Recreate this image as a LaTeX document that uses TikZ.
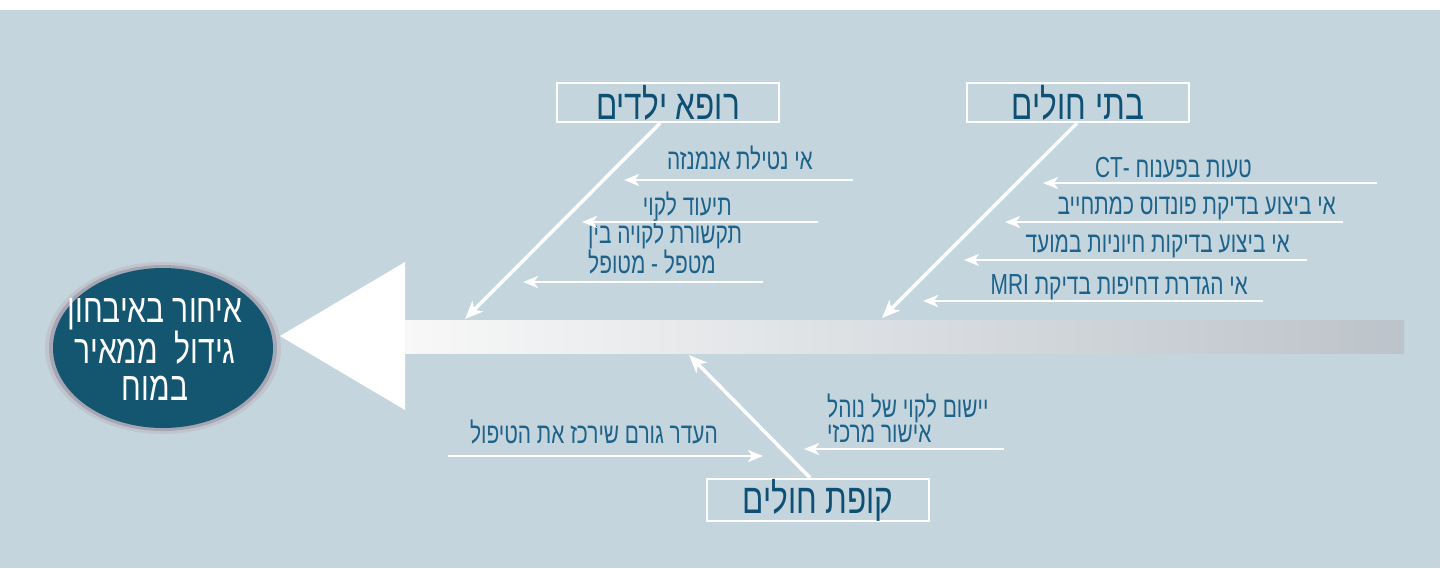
\documentclass[tikz,border=0pt]{standalone}
\usepackage{fontspec}
\usetikzlibrary{arrows.meta,shapes.geometric}
\TeXXeTstate=1
\newfontfamily\heb[Script=Hebrew,FakeStretch=0.72]{Liberation Sans}
\newfontfamily\hebw[Script=Hebrew,FakeStretch=0.75]{Liberation Sans}
\definecolor{bgc}{RGB}{196,213,222}
\definecolor{labc}{RGB}{28,98,138}
\definecolor{boxc}{RGB}{14,80,115}
\definecolor{goalc}{RGB}{20,86,112}
\definecolor{haloA}{RGB}{192,197,205}
\definecolor{haloB}{RGB}{165,166,180}
\definecolor{spineL}{RGB}{248,248,248}
\definecolor{spineR}{RGB}{188,195,202}
\begin{document}
\begin{tikzpicture}[x=1pt,y=-1pt,
  lab/.style={font=\heb\fontsize{29}{24}\selectfont, text=labc, inner sep=0pt},
  lab2/.style={lab, font=\heb\fontsize{29}{25.5}\selectfont, align=left, anchor=south west},
  boxlab/.style={draw=white, line width=2.5pt, minimum width=222pt, minimum height=39pt, inner sep=0pt, font=\hebw\fontsize{42}{44}\selectfont, text=boxc},
  bone/.style={draw=white, line width=3.5pt, -{Stealth[length=18pt,width=15pt,inset=5pt]}},
  rib/.style={draw=white, line width=2.5pt, -{Stealth[length=15pt,width=12pt,inset=4pt]}},
  goaltxt/.style={font=\hebw\fontsize{40}{37}\selectfont, text=white, inner sep=0pt}
]
\useasboundingbox (0,0) rectangle (1447,568);
\fill[bgc] (0,10) rectangle (1440,568);

% spine and head
\shade[left color=spineL, right color=spineR] (403,320) rectangle (1404,353);
\coordinate (head) at (280,336);
\fill[white] (head) -- (405,262) -- (405,410) -- cycle;

% goal ellipse
\fill[haloA] (163,348) ellipse [x radius=118, y radius=86];
\fill[haloB] (163,348) ellipse [x radius=114, y radius=83];
\node[ellipse, fill=goalc, minimum width=220pt, minimum height=160pt, inner sep=0pt] (goal) at (163,348) {};
\node[goaltxt, align=center, anchor=south] (gt) at (155,401) {\beginR איחור באיבחון\endR\\\beginR גידול~ ממאיר\endR\\\beginR במוח\endR};

% category boxes
\node[boxlab] (rb) at (668,102.5) {\beginR רופא ילדים\endR};
\node[boxlab] (bh) at (1078,102.5) {\beginR בתי חולים\endR};
\node[boxlab] (kh) at (818,500) {\beginR קופת חולים\endR};

% bone tips
\coordinate (rbt) at (465,319);
\coordinate (bht) at (882,318);
\coordinate (kht) at (689,355);
\draw[bone] ([xshift=-8pt]rb.south) -- (rbt);
\draw[bone] ([xshift=-1pt]bh.south) -- (bht);
\draw[bone] ([xshift=-8pt]kh.north) -- (kht);

% labels
\node[lab, anchor=base east] (r1) at (813,169) {\beginR אי נטילת אנמנזה\endR};
\node[lab, anchor=base east] (r2) at (732,215) {\beginR תיעוד לקוי\endR};
\node[lab2] (r3) at (588,274) {\beginR תקשורת לקויה בין\endR\\\beginR מטפל - מטופל\endR};
\node[lab, anchor=base east] (h1) at (1252,177) {\beginR טעות בפענוח \beginL CT-\endL\endR};
\node[lab, anchor=base east] (h2) at (1336,214) {\beginR אי ביצוע בדיקת פונדוס כמתחייב\endR};
\node[lab, anchor=base east] (h3) at (1290,252) {\beginR אי ביצוע בדיקות חיוניות במועד\endR};
\node[lab, anchor=base east] (h4) at (1248,294) {\beginR אי הגדרת דחיפות בדיקת \beginL MRI\endL\endR};
\node[lab2] (k1) at (827,443) {\beginR יישום לקוי של נוהל\endR\\\beginR אישור מרכזי\endR};
\node[lab, anchor=base east] (k2) at (718,443) {\beginR העדר גורם שירכז את הטיפול\endR};

% ribs
\coordinate (r1s) at (853,180);  \coordinate (r1e) at (624,180);
\coordinate (r2s) at (818,222);  \coordinate (r2e) at (582,222);
\coordinate (r3s) at (763,282);  \coordinate (r3e) at (523,282);
\coordinate (h1s) at (1377,183); \coordinate (h1e) at (1043,183);
\coordinate (h2s) at (1343,222); \coordinate (h2e) at (1005,222);
\coordinate (h3s) at (1307,260); \coordinate (h3e) at (964,260);
\coordinate (h4s) at (1263,301); \coordinate (h4e) at (923,301);
\coordinate (k1s) at (1004,449); \coordinate (k1e) at (804,449);
\coordinate (k2s) at (448,456);  \coordinate (k2e) at (763,456);
\foreach \a in {r1,r2,r3,h1,h2,h3,h4,k1,k2}
  \draw[rib] (\a s) -- (\a e);
\end{tikzpicture}
\end{document}
